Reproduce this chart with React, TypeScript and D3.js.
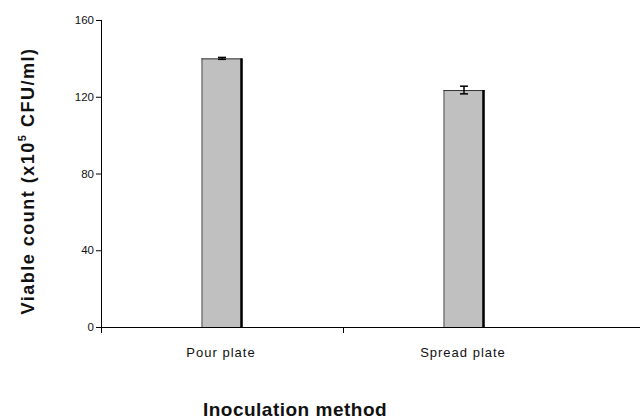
import React from "react";
import * as d3 from "d3";

const categories = ["Pour plate", "Spread plate"];
const values = [140, 123.5];
const errors = [0.5, 2];
const yTicks = [0, 40, 80, 120, 160];

export default function App() {
  const W = 640, H = 419;
  const x0 = 101, xEnd = 585, yTop = 20, yBot = 327;
  const x = d3.scaleBand().domain(categories).range([x0, xEnd]).paddingInner(0).paddingOuter(0);
  const y = d3.scaleLinear().domain([0, 160]).range([yBot, yTop]);
  const bw = 41;
  const font = "'Liberation Sans', Arial, sans-serif";
  return (
    <svg width={W} height={H} style={{ position: "absolute", left: 0, top: 0, background: "#fff" }}>
      {categories.map((c, i) => {
        const cx = (x(c) as number) + x.bandwidth() / 2;
        const top = y(values[i]);
        const l = cx - bw / 2;
        return (
          <g key={c}>
            <rect x={l} y={top} width={bw} height={yBot - top} fill="#c0c0c0" />
            <line x1={l + 0.5} x2={l + 0.5} y1={top} y2={yBot} stroke="#555" strokeWidth={1} />
            <line x1={l} x2={l + bw} y1={top + 0.5} y2={top + 0.5} stroke="#333" strokeWidth={1} />
            <line x1={l + bw - 1} x2={l + bw - 1} y1={top} y2={yBot} stroke="#000" strokeWidth={2.5} />
            <line x1={cx} x2={cx} y1={y(values[i] + errors[i])} y2={y(values[i] - errors[i])} stroke="#000" strokeWidth={1.5} />
            <line x1={cx - 4} x2={cx + 4} y1={y(values[i] + errors[i])} y2={y(values[i] + errors[i])} stroke="#000" strokeWidth={1.5} />
            <line x1={cx - 4} x2={cx + 4} y1={y(values[i] - errors[i])} y2={y(values[i] - errors[i])} stroke="#000" strokeWidth={1.5} />
            <text x={cx - 1} y={357} textAnchor="middle" fontFamily={font} fontSize={13} fill="#111" style={{ letterSpacing: "1px" }}>{c}</text>
          </g>
        );
      })}
      <line x1={x0 + 0.5} x2={x0 + 0.5} y1={yTop} y2={yBot} stroke="#000" strokeWidth={1} />
      {yTicks.map(t => (
        <g key={t}>
          <line x1={x0 - 5} x2={x0} y1={y(t) + 0.5} y2={y(t) + 0.5} stroke="#000" strokeWidth={1} />
          <text x={x0 - 7} y={y(t) + 4} textAnchor="end" fontFamily={font} fontSize={11.5} fill="#111">{t}</text>
        </g>
      ))}
      <line x1={x0} x2={W} y1={yBot + 0.5} y2={yBot + 0.5} stroke="#000" strokeWidth={1} />
      {[x0, (x(categories[1]) as number)].map((t, i) => (
        <line key={i} x1={t + 0.5} x2={t + 0.5} y1={yBot} y2={yBot + 6} stroke="#000" strokeWidth={1} />
      ))}
      <text x={295} y={416} textAnchor="middle" fontFamily={font} fontSize={19} fontWeight="bold" fill="#111" style={{ letterSpacing: "0.5px" }}>Inoculation method</text>
      <text transform={`translate(34,${181}) rotate(-90)`} textAnchor="middle" fontFamily={font} fontSize={18} fontWeight="bold" fill="#111" style={{ letterSpacing: "1.5px" }}>
        Viable count (x10<tspan dy={-8} fontSize={11}>5</tspan><tspan dy={8}> CFU/ml)</tspan>
      </text>
    </svg>
  );
}
